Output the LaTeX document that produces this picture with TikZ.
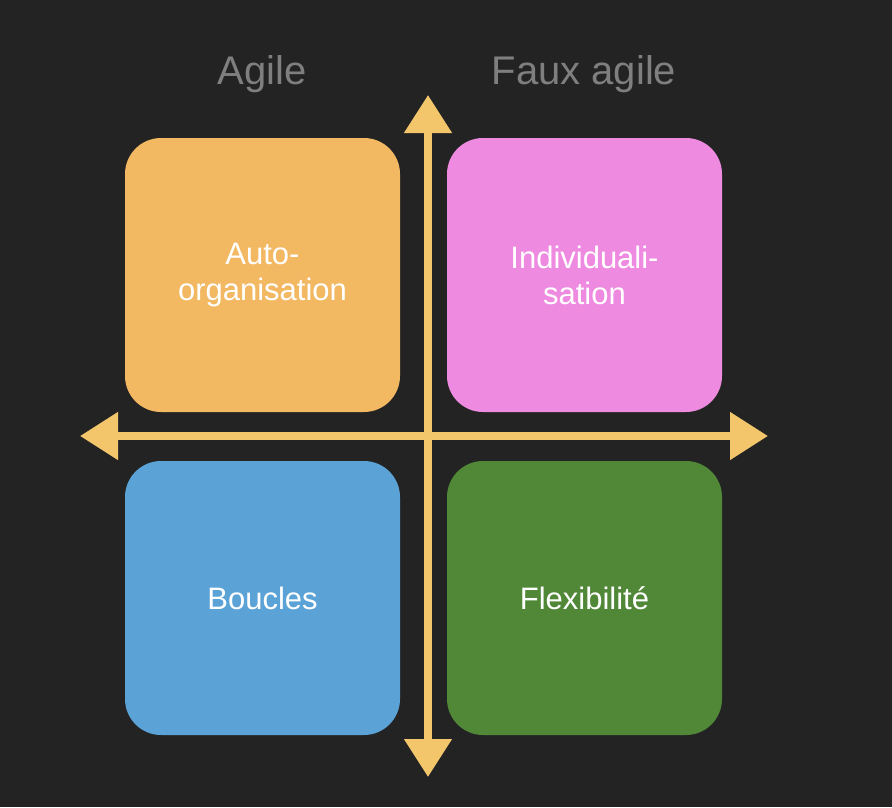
\documentclass[tikz,border=0pt]{standalone}
\usepackage{fontspec}
\setmainfont{Liberation Sans}
\usetikzlibrary{arrows.meta}
\definecolor{bg}{HTML}{232323}
\definecolor{ax}{HTML}{F3C66B}
\definecolor{cor}{HTML}{F2B862}
\definecolor{cpi}{HTML}{EE8AE0}
\definecolor{cbl}{HTML}{5BA3D6}
\definecolor{cgr}{HTML}{518838}
\definecolor{hd}{HTML}{7F7F7F}
\begin{document}
\begin{tikzpicture}[x=1pt,y=-1pt,
  box/.style={rounded corners=36pt,minimum width=275pt,minimum height=274pt,inner sep=0pt,text=white,align=center,font=\fontsize{31}{36}\selectfont},
  head/.style={text=hd,font=\fontsize{40}{44}\selectfont},
  axis/.style={ax,line width=8pt,-{Triangle[width=46pt,length=38pt]}}]
\fill[bg] (0,0) rectangle (892,807);
\useasboundingbox (0,0) rectangle (892,807);
\node[box,fill=cor] (tl) at (262.5,275) {Auto-\\organisation};
\node[box,fill=cpi] (tr) at (584.5,275) {Individuali-\\sation};
\node[box,fill=cbl] (bl) at (262.5,598) {Boucles};
\node[box,fill=cgr] (br) at (584.5,598) {Flexibilité};
\node[head] (ha) at (262,74) {Agile};
\node[head] (hf) at (584,74) {Faux agile};
\coordinate (c) at (428,436);
\coordinate (up) at (428,95);
\coordinate (dn) at (428,777);
\coordinate (lf) at (80,436);
\coordinate (rt) at (768,436);
\draw[axis] (c) -- (up);
\draw[axis] (c) -- (dn);
\draw[axis] (c) -- (lf);
\draw[axis] (c) -- (rt);
\end{tikzpicture}
\end{document}
